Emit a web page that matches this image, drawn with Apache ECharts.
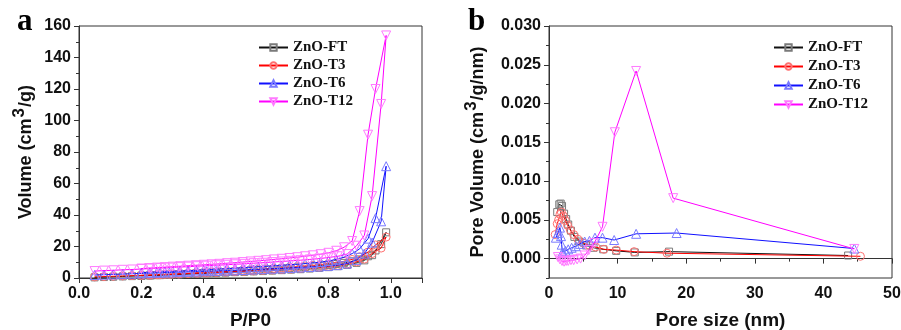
<!DOCTYPE html>
<html>
<head>
<meta charset="utf-8">
<script src="https://cdn.jsdelivr.net/npm/echarts@6/dist/echarts.min.js"></script>
<style>
  html, body { margin: 0; padding: 0; background: #fff; }
  #chart { width: 901px; height: 330px; }
</style>
</head>
<body>
<div id="chart"></div>
<script>
// isotherm (panel a): relative pressure grids, adsorption then desorption
const adsP = [0.05, 0.08, 0.11, 0.14, 0.17, 0.20, 0.23, 0.26, 0.29, 0.32, 0.35, 0.38, 0.41, 0.44, 0.47, 0.50, 0.53,
  0.56, 0.59, 0.62, 0.65, 0.68, 0.71, 0.74, 0.77, 0.80, 0.83, 0.86, 0.89, 0.915, 0.94, 0.969, 0.985];
const desP = [0.951, 0.927, 0.90, 0.876, 0.85, 0.825, 0.80, 0.775, 0.75, 0.725, 0.70, 0.675, 0.65, 0.625, 0.60, 0.575,
  0.55, 0.525, 0.50, 0.475, 0.45, 0.425, 0.40, 0.375, 0.35, 0.325, 0.30, 0.275, 0.25, 0.225, 0.20];

const ftAds = [0.4, 0.6, 0.8, 1.0, 1.2, 1.4, 1.6, 1.8, 2.0, 2.3, 2.5, 2.7, 3.0, 3.2, 3.4, 3.7, 3.9, 4.2, 4.4, 4.7, 5.0,
  5.3, 5.6, 6.0, 6.4, 6.9, 7.5, 8.3, 9.6, 11.2, 14.5, 21.5, 29];
const ftDes = [17.5, 13.8, 11.8, 10.6, 9.6, 8.9, 8.3, 7.8, 7.4, 7.0, 6.7, 6.3, 6.0, 5.7, 5.4, 5.1, 4.8, 4.5, 4.2, 4.0,
  3.7, 3.4, 3.2, 2.9, 2.7, 2.4, 2.2, 2.0, 1.8, 1.6, 1.4];
const t3Ads = [0.7, 0.9, 1.1, 1.3, 1.5, 1.7, 1.9, 2.1, 2.3, 2.5, 2.8, 3.0, 3.2, 3.5, 3.7, 4.0, 4.2, 4.5, 4.8, 5.1, 5.4,
  5.7, 6.1, 6.5, 6.9, 7.4, 8.0, 8.9, 10.2, 12.0, 15.5, 19, 26];
const t3Des = [21, 16.5, 13.5, 11.8, 10.6, 9.8, 9.1, 8.5, 8.0, 7.6, 7.2, 6.8, 6.5, 6.1, 5.8, 5.5, 5.2, 4.9, 4.6, 4.3,
  4.1, 3.8, 3.5, 3.3, 3.0, 2.8, 2.6, 2.3, 2.1, 1.9, 1.7];
const t6Ads = [1.9, 2.1, 2.3, 2.5, 2.7, 2.9, 3.1, 3.3, 3.5, 3.7, 3.9, 4.1, 4.3, 4.5, 4.7, 4.9, 5.1, 5.4, 5.6, 5.9, 6.1,
  6.4, 6.7, 7.0, 7.3, 7.7, 8.2, 9.2, 11.5, 15.5, 22.5, 36, 71];
const t6Des = [38, 25, 18.5, 15.5, 13.2, 11.8, 10.8, 10.1, 9.6, 9.1, 8.7, 8.4, 8.0, 7.7, 7.4, 7.1, 6.8, 6.5, 6.2, 5.9,
  5.7, 5.4, 5.1, 4.9, 4.6, 4.4, 4.2, 4.0, 3.8, 3.6, 3.4];
const t12Ads = [4.4, 4.7, 4.9, 5.2, 5.4, 5.7, 6.0, 6.3, 6.6, 6.9, 7.2, 7.5, 7.8, 8.1, 8.4, 8.7, 9.0, 9.4, 9.7, 10.1, 10.5,
  10.9, 11.3, 11.8, 12.3, 13.0, 13.8, 15.2, 20.5, 27, 52, 110.5, 154];
const t12Des = [120, 91, 42.5, 23.5, 19.5, 17.3, 16.0, 15.1, 14.4, 13.8, 13.2, 12.7, 12.2, 11.8, 11.3, 10.9, 10.5, 10.1,
  9.7, 9.4, 9.0, 8.7, 8.4, 8.1, 7.8, 7.5, 7.2, 6.9, 6.6, 6.3, 6.0];

// pore size distribution (panel b)
const ftD = [1.2, 1.5, 1.7, 1.9, 2.2, 2.5, 2.8, 3.2, 3.7, 4.4, 5.4, 6.5, 7.9, 9.8, 12.5, 17.5, 43.6];
const ftV = [0.0060, 0.0070, 0.0071, 0.0068, 0.0058, 0.0051, 0.0044, 0.0036, 0.0028, 0.0022, 0.0017, 0.0014, 0.0012,
  0.0010, 0.0008, 0.0009, 0.0004];
const t3D = [0.9, 1.2, 1.4, 1.6, 1.8, 2.1, 2.4, 2.7, 3.1, 3.6, 4.2, 5.0, 5.9, 6.8, 8.0, 9.8, 12.4, 17.2, 45.4];
const t3V = [0.0031, 0.0045, 0.0050, 0.0057, 0.0060, 0.0055, 0.0049, 0.0043, 0.0037, 0.0031, 0.0025, 0.0020, 0.0017,
  0.0015, 0.0012, 0.0011, 0.0009, 0.0007, 0.0003];
const t6D = [1.0, 1.3, 1.6, 1.75, 1.85, 1.95, 2.1, 2.4, 2.8, 3.3, 3.9, 4.5, 5.2, 5.9, 6.7, 7.8, 9.5, 12.7, 18.6, 44.5];
const t6V = [0.0027, 0.0033, 0.0040, 0.0029, 0.0018, 0.0008, 0.0007, 0.0010, 0.0012, 0.0014, 0.0016, 0.0019, 0.0022,
  0.0023, 0.0027, 0.0027, 0.0024, 0.0032, 0.0033, 0.0013];
const t12D = [1.3, 1.6, 1.9, 2.2, 2.5, 2.8, 3.2, 3.6, 4.1, 4.6, 5.2, 5.8, 6.6, 7.8, 9.6, 12.7, 18.1, 44.5];
const t12V = [0.0002, -0.0001, -0.0003, -0.0004, -0.0003, -0.0003, -0.0002, -0.0002, -0.0001, 0.0000, 0.0004, 0.0011,
  0.0020, 0.0041, 0.0163, 0.0242, 0.0078, 0.00125];

const names = ['ZnO-FT', 'ZnO-T3', 'ZnO-T6', 'ZnO-T12'];
const yTicksB = [0, 0.005, 0.01, 0.015, 0.02, 0.025, 0.03];
const yMinorB = [-0.0025, 0.0025, 0.0075, 0.0125, 0.0175, 0.0225, 0.0275];

const looks = [
  { line: '#111', mark: '#7a7a7a', symbol: 'rect', size: 7 },
  { line: '#f00', mark: '#ff7070', symbol: 'circle', size: 8 },
  { line: '#1010ff', mark: '#7a7aff', symbol: 'triangle', size: 9 },
  { line: '#ff00ff', mark: '#ff7aff', symbol: 'path://M0,0 L10,0 L5,8.66 Z', size: 9 }
];

const zip = (xs, ys) => xs.map((x, i) => [x, ys[i]]);
const iso = [
  zip(adsP, ftAds).concat(zip(desP, ftDes)),
  zip(adsP, t3Ads).concat(zip(desP, t3Des)),
  zip(adsP, t6Ads).concat(zip(desP, t6Des)),
  zip(adsP, t12Ads).concat(zip(desP, t12Des))
];
const psd = [zip(ftD, ftV), zip(t3D, t3V), zip(t6D, t6V), zip(t12D, t12V)];

const AX = '#333';
const tickFont = { fontFamily: 'Liberation Sans', fontWeight: 'bold', fontSize: 16, color: '#111' };
const nameFont = { fontFamily: 'Liberation Sans', fontWeight: 'bold', fontSize: 19, color: '#111' };
const rich = {
  a: { fontFamily: 'Liberation Sans', fontWeight: 'bold', fontSize: 18, color: '#111', verticalAlign: 'bottom', lineHeight: 24 },
  s: { fontFamily: 'Liberation Sans', fontWeight: 'bold', fontSize: 17, color: '#111', verticalAlign: 'top', lineHeight: 24, padding: [0, 1, 8, 1] }
};

function makeSeries(data, xi) {
  return data.map((d, i) => ({
    name: names[i],
    type: 'line',
    xAxisIndex: xi,
    yAxisIndex: xi,
    data: d,
    symbol: looks[i].symbol,
    symbolSize: looks[i].size,
    showAllSymbol: true,
    lineStyle: { color: looks[i].line, width: 1 },
    itemStyle: { color: 'rgba(255,255,255,0)', borderColor: looks[i].mark, borderWidth: 1 },
    emphasis: { disabled: true },
    z: 2 + i
  }));
}

function legendAt(left, gap) {
  return {
    orient: 'vertical', left: left, top: 40, padding: 0, itemWidth: 29, itemHeight: 8, itemGap: gap,
    data: names,
    textStyle: { fontFamily: 'Liberation Serif', fontWeight: 'bold', fontSize: 15, color: '#111' }
  };
}

const labelFont = 'bold 31px "Liberation Serif"';

const chart = echarts.init(document.getElementById('chart'));
chart.setOption({
  animation: false,
  backgroundColor: '#fff',
  graphic: [
    { type: 'text', left: 17, top: 6, style: { text: 'a', font: labelFont, fill: '#000' } },
    { type: 'text', left: 468, top: 6, style: { text: 'b', font: labelFont, fill: '#000' } }
  ],
  legend: [legendAt(258, 3), legendAt(773, 4)],
  grid: [
    { left: 79, top: 26, width: 343, height: 252, show: true, borderColor: AX, borderWidth: 1, outerBoundsMode: 'none', containLabel: false },
    { left: 549, top: 26, width: 343, height: 252, show: true, borderColor: AX, borderWidth: 1, outerBoundsMode: 'none', containLabel: false }
  ],
  xAxis: [
    {
      gridIndex: 0, type: 'value', min: 0, max: 1.1, interval: 0.2,
      name: 'P/P0', nameLocation: 'middle', nameGap: 33, nameTextStyle: nameFont,
      axisLine: { lineStyle: { color: AX } },
      axisTick: { length: 5, lineStyle: { color: AX } },
      minorTick: { show: true, splitNumber: 2, length: 3, lineStyle: { color: AX } },
      axisLabel: { ...tickFont, margin: 8, showMaxLabel: false, formatter: v => v.toFixed(1) },
      splitLine: { show: false }
    },
    {
      gridIndex: 1, type: 'value', min: 0, max: 50, interval: 10,
      name: 'Pore size (nm)', nameLocation: 'middle', nameGap: 33, nameTextStyle: nameFont,
      axisLine: { lineStyle: { color: AX } },
      axisTick: { length: 5, lineStyle: { color: AX } },
      minorTick: { show: true, splitNumber: 2, length: 3, lineStyle: { color: AX } },
      axisLabel: { ...tickFont, margin: 8 },
      splitLine: { show: false }
    }
  ],
  yAxis: [
    {
      gridIndex: 0, type: 'value', min: 0, max: 160, interval: 20,
      name: '{a|Volume (cm}{s|3}{a|/g)}', nameLocation: 'middle', nameGap: 44,
      nameTextStyle: { rich: rich },
      axisLine: { lineStyle: { color: AX } },
      axisTick: { length: 5, lineStyle: { color: AX } },
      minorTick: { show: true, splitNumber: 2, length: 3, lineStyle: { color: AX } },
      axisLabel: { ...tickFont, margin: 8 },
      splitLine: { show: false }
    },
    {
      gridIndex: 1, type: 'value', min: -0.0025, max: 0.03, interval: 0.0025,
      name: '{a|Pore Volume (cm}{s|3}{a|/g/nm)}', nameLocation: 'middle', nameGap: 62,
      nameTextStyle: { rich: rich },
      axisLine: { lineStyle: { color: AX } },
      axisTick: { length: 5, customValues: yTicksB, lineStyle: { color: AX } },
      axisLabel: { ...tickFont, margin: 8, customValues: yTicksB, formatter: v => v.toFixed(3) },
      splitLine: { show: false }
    },
    {
      gridIndex: 1, type: 'value', min: -0.0025, max: 0.03, interval: 0.0025,
      position: 'left', offset: 0,
      axisLine: { show: false },
      axisTick: { length: 3, customValues: yMinorB, lineStyle: { color: AX } },
      axisLabel: { show: false },
      splitLine: { show: false }
    }
  ],
  series: makeSeries(iso, 0).concat(makeSeries(psd, 1))
});
</script>
</body>
</html>
